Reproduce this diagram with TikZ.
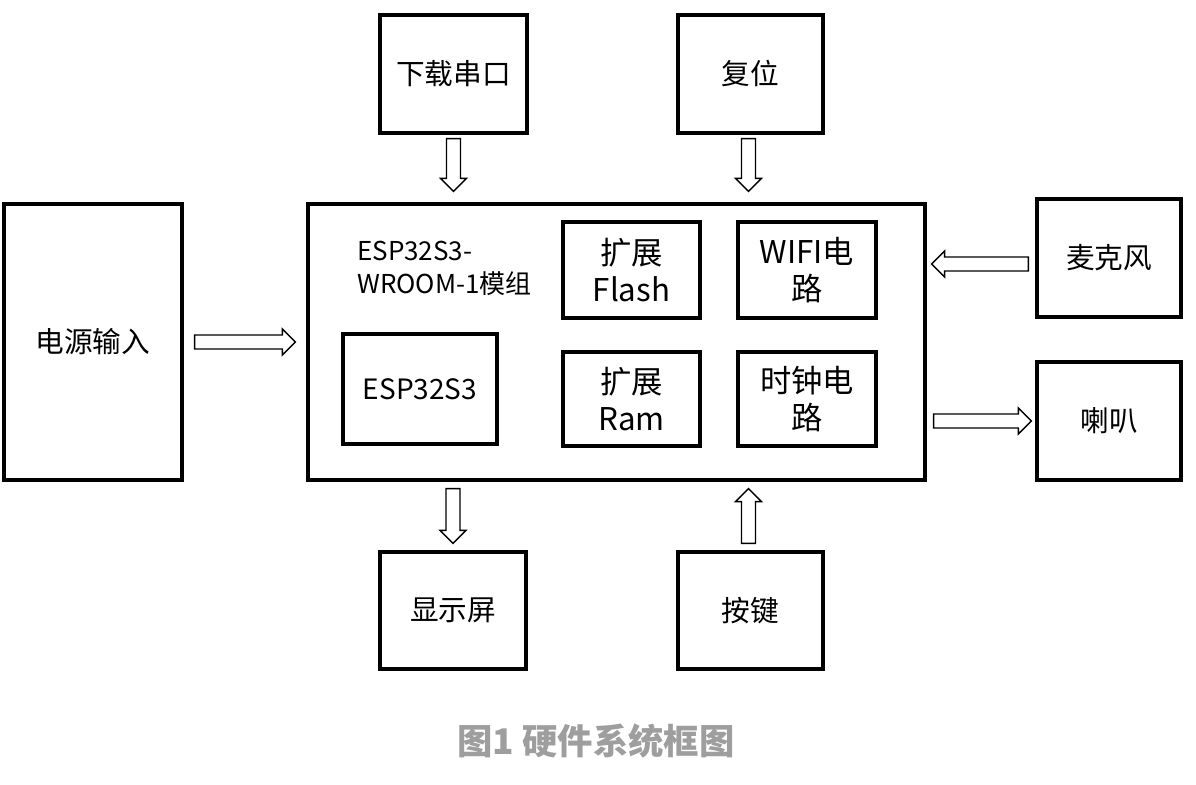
\documentclass[tikz,border=0pt]{standalone}
\usepackage{fontspec}
\setmainfont{Noto Sans CJK SC}
\usetikzlibrary{calc}
\newcommand\PX{0.75pt}
\newcommand\blockarrow[3]{%
  \path ($(#2)!9.75pt!(#1)$) coordinate (#3h);
  \draw[arrowline] ($(#1)!5.25pt!90:(#2)$) -- ($(#3h)!5.25pt!-90:(#1)$) -- ($(#3h)!9.75pt!-90:(#1)$) -- (#2)
    -- ($(#3h)!9.75pt!90:(#1)$) -- ($(#3h)!5.25pt!90:(#1)$) -- ($(#1)!5.25pt!-90:(#2)$) -- cycle;}
\tikzset{
  box/.style={draw=black, line width=2.4pt, fill=white, inner sep=0pt, align=center},
  outerlbl/.style={font=\fontsize{21.5}{26}\selectfont},
  innerlbl/.style={font=\fontsize{23.5}{27.5}\selectfont},
  arrowline/.style={draw=black, line width=1pt, fill=white, line join=miter},
}
\begin{document}
\begin{tikzpicture}[x=0.75pt,y=0.75pt]
\useasboundingbox[fill=white] (0,0) rectangle (1196,-785);
% outer boxes
\node[box,outerlbl,minimum width={147*\PX},minimum height={118*\PX}] (dl) at (453.5,-74) {下载串口};
\node[box,outerlbl,minimum width={145*\PX},minimum height={118*\PX}] (rst) at (750.5,-74) {复位};
\node[box,outerlbl,minimum width={178*\PX},minimum height={276*\PX}] (pw) at (93,-342) {电源输入};
\node[box,minimum width={617*\PX},minimum height={276*\PX}] (main) at (616.5,-342) {};
\node[box,outerlbl,minimum width={144*\PX},minimum height={118*\PX}] (mic) at (1109,-258) {麦克风};
\node[box,outerlbl,minimum width={144*\PX},minimum height={118*\PX}] (spk) at (1109,-421) {喇叭};
\node[box,outerlbl,minimum width={146*\PX},minimum height={117*\PX}] (disp) at (453,-610.5) {显示屏};
\node[box,outerlbl,minimum width={145*\PX},minimum height={117*\PX}] (key) at (750.5,-610.5) {按键};
% inner boxes
\node[box,minimum width={154*\PX},minimum height={110*\PX},font=\fontsize{21}{26}\selectfont] (esp) at (420,-389) {ESP32S3};
\node[box,innerlbl,minimum width={137*\PX},minimum height={96*\PX}] (flash) at (631.5,-270) {扩展\\Flash};
\node[box,innerlbl,minimum width={138*\PX},minimum height={96*\PX}] (wifi) at (807,-270) {WIFI电\\路};
\node[box,innerlbl,minimum width={137*\PX},minimum height={94*\PX}] (ram) at (631.5,-399) {扩展\\Ram};
\node[box,innerlbl,minimum width={138*\PX},minimum height={94*\PX}] (clk) at (807,-399) {时钟电\\路};
\node[anchor=west,align=left,inner sep=0pt,font=\fontsize{19.5}{24.75}\selectfont] (title) at (357,-268) {ESP32S3-\\WROOM-1模组};
% caption
\node[inner sep=0pt,text=black!38,font=\fontsize{26.5}{30}\selectfont\bfseries] (cap) at (596,-741) {图1 硬件系统框图};
% arrow end points
\coordinate (a1s) at ($(dl.south)+(0,-4)$);
\coordinate (a1e) at ($(dl.south |- main.north)+(0,11)$);
\coordinate (a2s) at ($(rst.south)+(-2,-4)$);
\coordinate (a2e) at ($(rst.south |- main.north)+(-2,11)$);
\coordinate (a3s) at ($(pw.east)+(11,0)$);
\coordinate (a3e) at ($(main.west |- pw.east)+(-11,0)$);
\coordinate (a4s) at ($(mic.west)+(-7,-6)$);
\coordinate (a4e) at ($(main.east |- a4s)+(5,0)$);
\coordinate (a5s) at ($(main.east |- spk.west)+(7,0)$);
\coordinate (a5e) at ($(spk.west)+(-4,0)$);
\coordinate (a6s) at ($(disp.north |- main.south)+(0,-7)$);
\coordinate (a6e) at ($(disp.north)+(0,7)$);
\coordinate (a7s) at ($(key.north)+(-2,7)$);
\coordinate (a7e) at ($(key.north |- main.south)+(-2,-7)$);
\blockarrow{a1s}{a1e}{a1}
\blockarrow{a2s}{a2e}{a2}
\blockarrow{a3s}{a3e}{a3}
\blockarrow{a4s}{a4e}{a4}
\blockarrow{a5s}{a5e}{a5}
\blockarrow{a6s}{a6e}{a6}
\blockarrow{a7s}{a7e}{a7}
\end{tikzpicture}
\end{document}
